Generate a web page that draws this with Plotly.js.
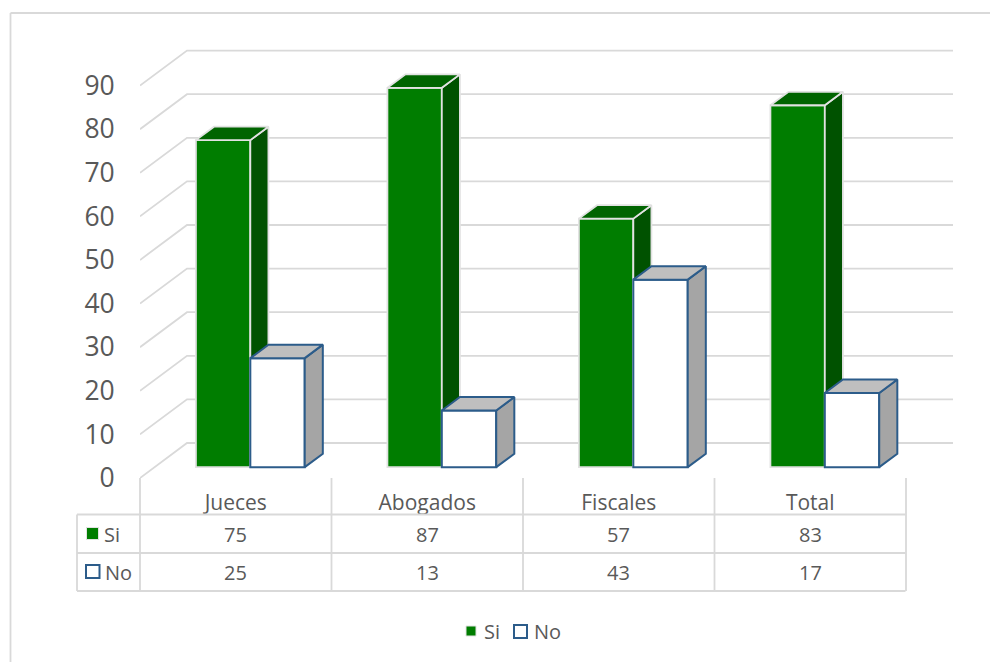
<!DOCTYPE html>
<html>
<head>
<meta charset="utf-8">
<script src="https://cdn.plot.ly/plotly-3.0.1.min.js"></script>
<style>html,body{margin:0;padding:0;background:#fff;overflow:hidden}#c{width:990px;height:662px}</style>
</head>
<body>
<div id="c"></div>
<script>
const categories = ["Jueces", "Abogados", "Fiscales", "Total"];
const siValues = [75, 87, 57, 83];
const noValues = [25, 13, 43, 17];
const yTicks = [0, 10, 20, 30, 40, 50, 60, 70, 80, 90];

const W = 990, H = 662;
const L = 140, R = 960, T = 40, B = 478;
const catPx = 191.5, unitPx = 4.36;
const depthX = 47 / catPx, depthY = 35 / unitPx;
const dFront = 0.31, dBack = 0.695, barW = 54.4 / catPx;
const xMax = (R - L) / catPx, yMax = (B - T) / unitPx;

const GRID = "#D9D9D9", TEXT = "#595959", GREEN = "#007D00", BLUE = "#2C5C8A";
const FONT = "'Open Sans', sans-serif";

const px = p => (p - L) / (R - L);
const py = p => (B - p) / (B - T);

function poly(xs, ys, fill, line, w, xa, ya) {
  return {type: "scatter", mode: "lines", x: xs, y: ys, fill: "toself", fillcolor: fill,
    line: {color: line, width: w}, showlegend: false, hoverinfo: "skip", xaxis: xa, yaxis: ya, cliponaxis: false};
}
// side and top faces of each box, projected from the value and the floor depth
function faces(values, side, top, line, w, offset, xa, ya) {
  const out = [];
  values.forEach((v, i) => {
    const x0 = i + 0.5 + offset + dFront * depthX, x1 = x0 + barW;
    const sx = (dBack - dFront) * depthX, sy = (dBack - dFront) * depthY;
    const b = dFront * depthY, t = b + v;
    out.push(poly([x1, x1 + sx, x1 + sx, x1, x1], [b, b + sy, t + sy, t, b], side, line, w, xa, ya));
    out.push(poly([x0, x0 + sx, x1 + sx, x1, x0], [t, t + sy, t + sy, t, t], top, line, w, xa, ya));
  });
  return out;
}
function fronts(values, name, fill, line, w, offset, xa, ya) {
  return {type: "bar", name: name, x: values.map((v, i) => i + 0.5 + offset + barW / 2 + dFront * depthX),
    y: values, base: dFront * depthY, width: barW, showlegend: false,
    marker: {color: fill, line: {color: line, width: w}}, hoverinfo: "skip", xaxis: xa, yaxis: ya, cliponaxis: false};
}

const gx = [], gy = [];
yTicks.forEach(v => {
  gx.push(0, depthX, categories.length + depthX, null);
  gy.push(v, v + depthY, v + depthY, null);
});
const grid = {type: "scatter", mode: "lines", x: gx, y: gy, line: {color: GRID, width: 1.8},
  showlegend: false, hoverinfo: "skip", cliponaxis: false};

const traces = [
  grid,
  fronts(siValues, "Si", GREEN, "#E2E2E2", 1.8, -barW, "x2", "y2"),
  ...faces(siValues, "#005200", "#006400", "#E2E2E2", 1.8, -barW, "x2", "y2"),
  fronts(noValues, "No", "#FFFFFF", BLUE, 2, 0, "x3", "y3"),
  ...faces(noValues, "#A5A5A5", "#BFBFBF", BLUE, 2, 0, "x3", "y3")
];

const shapes = [];
const ln = (x0, y0, x1, y1, c, w) => shapes.push({type: "line", xref: "paper", yref: "paper",
  x0: px(x0), y0: py(y0), x1: px(x1), y1: py(y1), line: {color: c || GRID, width: w || 1.8}});
// outer frame
ln(10.5, 13, 990, 13); ln(10.5, 13, 10.5, 662);
// data table
[514.5, 553, 591].forEach(y => ln(77, y, 905.5, y));
ln(77, 514.5, 77, 591);
categories.concat([""]).forEach((c, i) => { const x = L + i * catPx; ln(x, 478, x, 591); });
const key = (x0, x1, y0, y1, fill, line, w) => shapes.push({type: "rect", xref: "paper", yref: "paper",
  x0: px(x0), x1: px(x1), y0: py(y0), y1: py(y1), fillcolor: fill, line: {color: line, width: w}});
// table keys
key(86.5, 98.5, 527.5, 539.5, GREEN, "#E2E2E2", 1);
key(86, 99.5, 565, 578, "#fff", BLUE, 2);
// legend keys
key(466, 476, 626, 636, GREEN, "#E2E2E2", 1);
key(514, 527, 625, 638, "#fff", BLUE, 2);

const annotations = [];
const txt = (text, xref, x, yPx, anchor, size) => annotations.push({text: String(text), xref: xref, yref: "paper",
  x: x, y: py(yPx), xanchor: anchor || "center", yanchor: "middle", showarrow: false,
  font: {family: FONT, size: size || 20, color: TEXT}});
txt("Si", "paper", px(102), 534, "left");
txt("No", "paper", px(103), 572, "left");
siValues.forEach((v, i) => txt(v, "x", i + 0.5, 534));
noValues.forEach((v, i) => txt(v, "x", i + 0.5, 572));
txt("Si", "paper", px(482), 631, "left");
txt("No", "paper", px(532), 631, "left");

const xa = {range: [0, xMax], fixedrange: true, showgrid: false, zeroline: false, showline: false,
  tickmode: "array", tickvals: categories.map((c, i) => i + 0.5), ticktext: categories,
  ticks: "outside", ticklen: 6, tickcolor: "rgba(0,0,0,0)", tickfont: {family: FONT, size: 21, color: TEXT}};
const ya = {range: [0, yMax], fixedrange: true, showgrid: false, zeroline: false, showline: false,
  tickmode: "array", tickvals: yTicks, ticktext: yTicks.map(String),
  ticks: "outside", ticklen: 19, tickcolor: "rgba(0,0,0,0)", tickfont: {family: FONT, size: 26.5, color: TEXT}};
const hiddenX = a => ({overlaying: a, range: [0, xMax], visible: false, fixedrange: true});
const hiddenY = a => ({overlaying: a, range: [0, yMax], visible: false, fixedrange: true});

Plotly.newPlot("c", traces, {
  width: W, height: H, autosize: false,
  margin: {l: L, r: W - R, t: T, b: H - B, pad: 0},
  paper_bgcolor: "#fff", plot_bgcolor: "rgba(0,0,0,0)",
  barmode: "overlay", font: {family: FONT, color: TEXT},
  xaxis: xa, yaxis: ya,
  xaxis2: hiddenX("x"), yaxis2: hiddenY("y"),
  xaxis3: hiddenX("x"), yaxis3: hiddenY("y"),
  shapes: shapes, annotations: annotations,
  showlegend: false
}, {displayModeBar: false, staticPlot: true});
</script>
</body>
</html>
